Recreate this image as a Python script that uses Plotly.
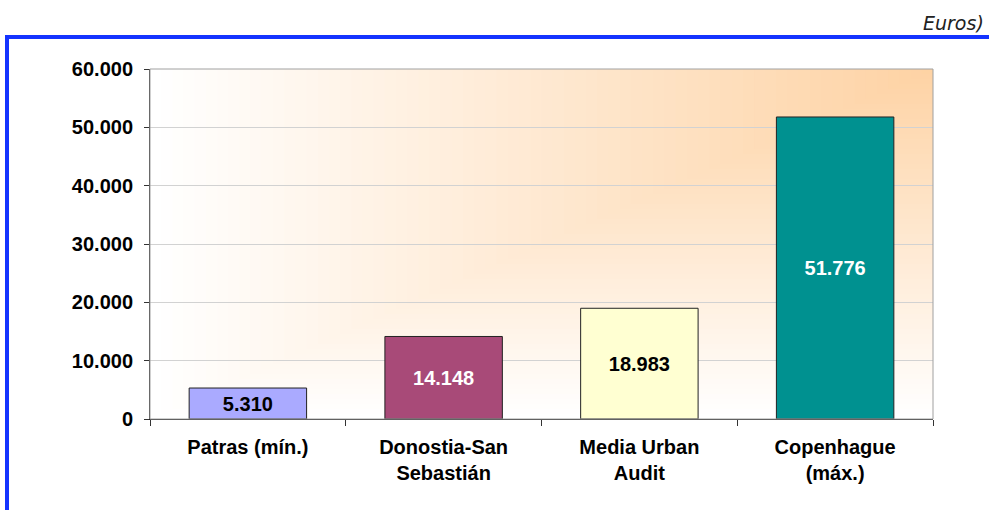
import plotly.graph_objects as go

# data
cities = ["Patras (mín.)", "Donostia-San<br>Sebastián", "Media Urban<br>Audit", "Copenhague<br>(máx.)"]
values = [5310, 14148, 18983, 51776]
labels = ["5.310", "14.148", "18.983", "51.776"]
bar_colors = ["#aaaaff", "#a84a78", "#ffffd2", "#009190"]
label_colors = ["black", "white", "black", "white"]
y_ticks = [0, 10000, 20000, 30000, 40000, 50000, 60000]

W, H = 989, 510
L, R, T, B = 150, 56, 69, 91
pw, ph = W - L - R, H - T - B


def px_x(p):  # pixel -> paper x
    return (p - L) / pw


def px_y(p):  # pixel -> paper y
    return (H - B - p) / ph


fig = go.Figure(go.Bar(
    x=cities, y=values,
    text=labels, textposition="inside", insidetextanchor="middle",
    textfont=dict(family="Liberation Sans", size=20, weight="bold", color=label_colors),
    constraintext="none",
    marker=dict(color=bar_colors, line=dict(color="#222222", width=1)),
    width=0.6,
    hoverinfo="skip",
))

shapes = []
# corner gradient background (peach at top right fading to white)
peach = (254, 210, 163)
n = 70
for i in range(n):
    s = 1 - i / n
    c = [round(p + (255 - p) * s) for p in peach]
    shapes.append(dict(type="rect", xref="x domain", yref="y domain",
                       x0=1 - s, x1=1, y0=1 - s, y1=1, layer="below",
                       fillcolor="rgb(%d,%d,%d)" % tuple(c), line=dict(width=0)))
# plot area border (top/right gray)
shapes.append(dict(type="rect", xref="x domain", yref="y domain", x0=0, x1=1, y0=0, y1=1,
                   layer="above", line=dict(color="#a0a0a0", width=1)))
# blue frame
shapes.append(dict(type="rect", xref="paper", yref="paper",
                   x0=px_x(5), x1=px_x(W + 2), y0=px_y(39), y1=px_y(35),
                   fillcolor="#1433ff", line=dict(width=0)))
shapes.append(dict(type="rect", xref="paper", yref="paper",
                   x0=px_x(5), x1=px_x(9), y0=px_y(H + 2), y1=px_y(35),
                   fillcolor="#1433ff", line=dict(width=0)))

fig.update_layout(
    width=W, height=H,
    margin=dict(l=L, r=R, t=T, b=B),
    paper_bgcolor="white", plot_bgcolor="white",
    separators=",.",
    showlegend=False,
    bargap=0.4,
    shapes=shapes,
    annotations=[dict(text="Euros)", xref="paper", yref="paper",
                      x=px_x(986), y=px_y(23), xanchor="right", yanchor="middle",
                      showarrow=False,
                      font=dict(family="DejaVu Sans", size=19, style="italic", color="#222222"))],
)

fig.update_yaxes(
    range=[0, 60000], tickvals=y_ticks, tickformat=",d",
    showgrid=True, gridcolor="#d2d2d2", gridwidth=1,
    showline=True, linecolor="#333333", linewidth=1,
    ticks="outside", ticklen=5, tickcolor="#333333", ticklabelstandoff=7,
    tickfont=dict(family="Liberation Sans", size=20, weight="bold", color="black"),
    zeroline=False,
)
fig.update_xaxes(
    showgrid=False,
    showline=True, linecolor="#222222", linewidth=1,
    ticks="outside", ticklen=6, tickcolor="#333333", tickson="boundaries",
    ticklabelstandoff=10,
    tickfont=dict(family="Liberation Sans", size=20, weight="bold", color="black"),
)

# page has a default 8px body margin; drop it so the figure sits at the corner
fig.write_html("out.html", config={"displayModeBar": False},
               post_script="document.body.style.margin='0';")
